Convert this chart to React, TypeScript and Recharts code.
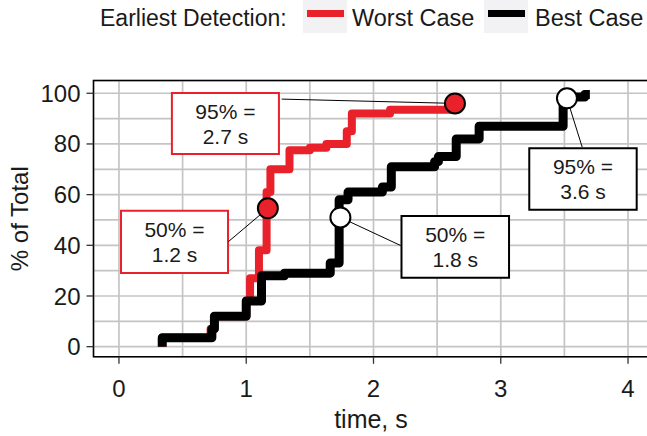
import React from 'react';
import {
  LineChart,
  Line,
  XAxis,
  YAxis,
  CartesianGrid,
  ReferenceArea,
  ReferenceLine,
  ReferenceDot,
  Legend,
} from 'recharts';

// ---------- data ----------
const worstX = [0.34, 0.34, 0.72, 0.75, 1.0, 1.03, 1.1, 1.16, 1.19, 1.34, 1.5, 1.63, 1.79, 1.83, 2.13, 2.66];
const worstY = [0, 3.5, 7, 12, 18, 27, 38, 61, 70, 77.5, 78.5, 80, 85, 92, 93.5, 93.5];

const bestX = [0.34, 0.34, 0.73, 0.75, 1.0, 1.12, 1.3, 1.66, 1.73, 1.8, 2.07, 2.14, 2.48, 2.51, 2.65, 2.83, 3.49, 3.55, 3.66, 3.7];
const bestY = [0, 3.5, 7, 12, 18, 28, 29, 33, 58, 61, 63, 71, 73, 75, 82, 87, 97, 98.5, 99.5, 99.5];

const seriesNames = ['Worst Case', 'Best Case'];
const legendTitle = 'Earliest Detection:';

// grid positions (every 0.5 s / 10 %) and the labelled subset
const xGrid = [0, 0.5, 1, 1.5, 2, 2.5, 3, 3.5, 4];
const yGrid = [0, 10, 20, 30, 40, 50, 60, 70, 80, 90, 100];
const xTickLabels = [0, 1, 2, 3, 4];
const yTickLabels = [0, 20, 40, 60, 80, 100];

// marker points (time, %) and their annotation text
const worstMarkX = [1.17, 2.64];
const worstMarkY = [54.6, 96];
const worstMarkText = [['50% =', '1.2 s'], ['95% =', '2.7 s']];
const bestMarkX = [1.74, 3.52];
const bestMarkY = [51, 98];
const bestMarkText = [['50% =', '1.8 s'], ['95% =', '3.6 s']];

// annotation boxes in data coordinates [x1, x2, y1, y2] and leader-line anchor [x, y]
const worstBoxes = [
  [0.016, 0.857, 29.1, 53.6],
  [0.416, 1.257, 76.0, 100.1],
];
const worstAnchors = [
  [0.859, 41.4],
  [1.279, 97.7],
];
const bestBoxes = [
  [2.22, 3.065, 27.2, 51.6],
  [3.224, 4.068, 54.0, 78.3],
];
const bestAnchors = [
  [2.214, 39.9],
  [3.64, 78.7],
];

// ---------- styles ----------
const RED = '#e8212b';
const BLACK = '#000000';
const FONT = '"Liberation Sans", Arial, Helvetica, sans-serif';
const TEXT = '#1a1a1a';
const GRID = '#c4c4c4';
const TICK_SIZE = 7;

const worstData = worstX.map((x, i) => ({ x, y: worstY[i] }));
const bestData = bestX.map((x, i) => ({ x, y: bestY[i] }));

const X_DOMAIN: [number, number] = [-0.2, 4.16];
const Y_DOMAIN: [number, number] = [-4, 105];

const XTick = (props: any) => {
  const { x, y, payload } = props;
  if (!xTickLabels.includes(payload.value)) return <g />;
  const margin = 16;
  return (
    <g>
      <line x1={x} x2={x} y1={y - margin - TICK_SIZE} y2={y - margin} stroke="#333" strokeWidth={1.3} />
      <text x={x} y={y} dy="0.71em" textAnchor="middle" fontSize={24} fill={TEXT} fontFamily={FONT}>
        {payload.value}
      </text>
    </g>
  );
};

const YTick = (props: any) => {
  const { x, y, payload } = props;
  if (!yTickLabels.includes(payload.value)) return <g />;
  const margin = 6;
  return (
    <g>
      <line x1={x + margin} x2={x + margin + TICK_SIZE} y1={y} y2={y} stroke="#333" strokeWidth={1.3} />
      <text x={x} y={y} dy="0.355em" textAnchor="end" fontSize={24} fill={TEXT} fontFamily={FONT}>
        {payload.value}
      </text>
    </g>
  );
};

const boxLabel = (lines: string[]) => (props: any) => {
  const vb = props.viewBox || {};
  const cx = vb.x + vb.width / 2;
  const cy = vb.y + vb.height / 2;
  return (
    <g>
      <text x={cx} y={cy - 12.3 + 7.5} textAnchor="middle" fontSize={21} fill={TEXT} fontFamily={FONT}>
        {lines[0]}
      </text>
      <text x={cx} y={cy + 12.5 + 7.5} textAnchor="middle" fontSize={21} fill={TEXT} fontFamily={FONT}>
        {lines[1]}
      </text>
    </g>
  );
};

const renderLegend = (props: any) => {
  const payload = [...(props.payload || [])].sort(
    (a: any, b: any) => seriesNames.indexOf(a.value) - seriesNames.indexOf(b.value)
  );
  const boxX = [303, 484];
  const textX = [352, 535];
  return (
    <svg width={647} height={36} style={{ display: 'block' }}>
      <text x={100} y={26} fontSize={23} fill={TEXT} fontFamily={FONT}>
        {legendTitle}
      </text>
      {payload.map((entry: any, i: number) => (
        <g key={entry.value}>
          <rect x={boxX[i]} y={0} width={44} height={33} fill="#f2f2f4" />
          <rect x={boxX[i] + 4} y={10} width={37} height={7} fill={entry.color} />
          <text x={textX[i]} y={26} fontSize={23.5} fill={TEXT} fontFamily={FONT}>
            {entry.value}
          </text>
        </g>
      ))}
    </svg>
  );
};

const yTitle = (props: any) => {
  const vb = props.viewBox || {};
  const cx = 19;
  const cy = vb.y + vb.height / 2;
  return (
    <text
      x={cx}
      y={cy}
      dy="0.36em"
      textAnchor="middle"
      transform={`rotate(-90 ${cx} ${cy})`}
      fontSize={24}
      fill={TEXT}
      fontFamily={FONT}
    >
      % of Total
    </text>
  );
};

const xTitle = (props: any) => {
  const vb = props.viewBox || {};
  return (
    <text
      x={vb.x + vb.width / 2}
      y={vb.y + vb.height - 8}
      textAnchor="middle"
      fontSize={25}
      fill={TEXT}
      fontFamily={FONT}
    >
      time, s
    </text>
  );
};

export default function App() {
  return (
    <div
      style={{
        position: 'absolute',
        left: 0,
        top: 0,
        width: 647,
        height: 436,
        overflow: 'hidden',
        background: '#fff',
      }}
    >
      <LineChart
        width={656}
        height={436}
        margin={{ top: 44.6, right: 7.6, bottom: 0, left: 0 }}
      >
        <Legend
          verticalAlign="top"
          align="left"
          height={36}
          content={renderLegend}
          wrapperStyle={{ position: 'absolute', top: 0, left: 0, width: 647, height: 36 }}
        />

        <CartesianGrid stroke={GRID} strokeWidth={1.7} />

        <XAxis
          dataKey="x"
          type="number"
          domain={X_DOMAIN}
          ticks={xGrid}
          interval={0}
          allowDataOverflow
          height={79.2}
          axisLine={false}
          tickSize={TICK_SIZE}
          tickMargin={16}
          tickLine={false}
          tick={<XTick />}
          label={xTitle}
        />
        <YAxis
          type="number"
          domain={Y_DOMAIN}
          ticks={yGrid}
          interval={0}
          allowDataOverflow
          width={93.5}
          axisLine={false}
          tickSize={TICK_SIZE}
          tickMargin={6}
          tickLine={false}
          tick={<YTick />}
          label={yTitle}
        />

        <Line
          data={worstData}
          dataKey="y"
          name={seriesNames[0]}
          type="stepAfter"
          stroke={RED}
          strokeWidth={8}
          strokeLinejoin="round"
          dot={false}
          activeDot={false}
          isAnimationActive={false}
        />
        <Line
          data={bestData}
          dataKey="y"
          name={seriesNames[1]}
          type="stepAfter"
          stroke={BLACK}
          strokeWidth={9}
          strokeLinejoin="round"
          dot={false}
          activeDot={false}
          isAnimationActive={false}
        />

        {worstAnchors.map((a, i) => (
          <ReferenceLine
            key={`wl${i}`}
            segment={[{ x: a[0], y: a[1] }, { x: worstMarkX[i], y: worstMarkY[i] }]}
            stroke="#000"
            strokeWidth={1}
          />
        ))}
        {bestAnchors.map((a, i) => (
          <ReferenceLine
            key={`bl${i}`}
            segment={[{ x: a[0], y: a[1] }, { x: bestMarkX[i], y: bestMarkY[i] }]}
            stroke="#000"
            strokeWidth={1}
          />
        ))}

        {worstMarkX.map((x, i) => (
          <ReferenceDot key={`wd${i}`} x={x} y={worstMarkY[i]} r={10} fill={RED} stroke="#000" strokeWidth={2} />
        ))}
        {bestMarkX.map((x, i) => (
          <ReferenceDot key={`bd${i}`} x={x} y={bestMarkY[i]} r={10} fill="#fff" stroke="#000" strokeWidth={2} />
        ))}

        {worstBoxes.map((b, i) => (
          <ReferenceArea
            key={`wb${i}`}
            x1={b[0]}
            x2={b[1]}
            y1={b[2]}
            y2={b[3]}
            fill="#fff"
            fillOpacity={1}
            stroke={RED}
            strokeWidth={2}
            label={boxLabel(worstMarkText[i])}
          />
        ))}
        {bestBoxes.map((b, i) => (
          <ReferenceArea
            key={`bb${i}`}
            x1={b[0]}
            x2={b[1]}
            y1={b[2]}
            y2={b[3]}
            fill="#fff"
            fillOpacity={1}
            stroke={BLACK}
            strokeWidth={2}
            label={boxLabel(bestMarkText[i])}
          />
        ))}

        {/* panel border */}
        <ReferenceArea
          x1={X_DOMAIN[0]}
          x2={X_DOMAIN[1]}
          y1={Y_DOMAIN[0]}
          y2={Y_DOMAIN[1]}
          fill="none"
          stroke="#000"
          strokeWidth={1.5}
          ifOverflow="visible"
        />
      </LineChart>
    </div>
  );
}
